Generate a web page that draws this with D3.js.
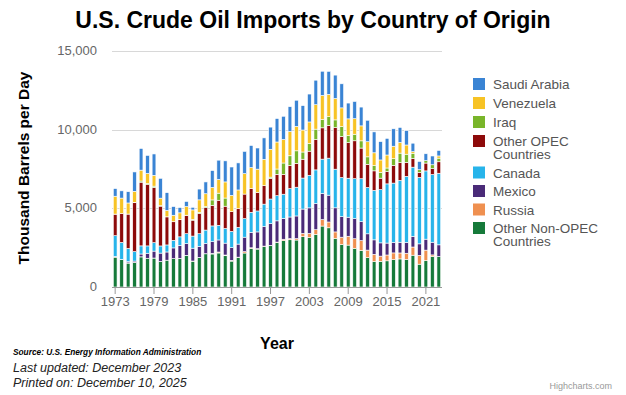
<!DOCTYPE html>
<html>
<head>
<meta charset="utf-8">
<script src="https://cdnjs.cloudflare.com/ajax/libs/d3/7.8.5/d3.min.js"></script>
<style>
  body { margin: 0; background: #fff; }
  svg { font-family: "Liberation Sans", Arial, sans-serif; }
</style>
</head>
<body>
<div id="chart"></div>
<script>
var years = d3.range(1973, 2024);

var seriesNames = ["Other Non-OPEC Countries", "Russia", "Mexico", "Canada",
                   "Other OPEC Countries", "Iraq", "Venezuela", "Saudi Arabia"];
var seriesColors = ["#167a3a", "#ef9050", "#4a2b78", "#27b4ea",
                    "#8d0a0a", "#79b52a", "#f7c325", "#3a84d4"];

var saudiArabia = [486,461,715,1230,1380,1144,1356,1261,1129,552,337,325,168,685,751,1073,1224,1339,1802,1720,
  1414,1402,1344,1363,1407,1491,1478,1572,1662,1552,1774,1558,1537,1463,1485,1529,1004,1096,1195,1365,
  1329,1166,1059,1106,959,917,538,525,434,558,350];
var venezuela = [1135,979,702,700,690,646,690,481,406,412,422,548,605,793,804,794,873,1025,1035,1170,
  1300,1334,1480,1676,1773,1719,1493,1546,1553,1398,1376,1554,1529,1419,1361,1189,1063,988,951,960,
  806,789,827,796,676,586,101,0,0,0,140];
var iraq = [4,0,2,26,74,62,88,28,1,1,10,12,46,81,83,345,449,518,0,0,
  0,0,0,1,89,336,726,620,795,459,481,656,531,553,484,627,450,415,459,476,
  341,369,229,419,603,522,333,179,157,247,230];
var otherOpec = [1368,1840,2182,3110,4049,3899,3503,2530,1787,1181,1093,1164,1011,1278,1422,1308,1594,1414,1255,1202,
  1559,1511,1178,1171,1300,1359,1256,1465,1518,1196,1531,1933,1990,2082,2650,2609,2259,2407,1950,1470,
  1244,724,779,1129,1133,883,552,306,498,373,730];
var canada = [1325,1070,846,599,517,467,538,455,447,482,547,630,770,807,848,999,931,934,1033,1069,
  1181,1272,1332,1424,1563,1598,1539,1807,1828,1971,2072,2138,2181,2353,2455,2493,2479,2535,2729,2946,
  3142,3388,3763,3776,3928,4205,4398,4226,4340,4303,4550];
var mexico = [16,8,71,87,179,318,439,533,522,685,826,748,816,699,655,747,767,755,807,830,
  919,984,1068,1244,1385,1351,1324,1373,1440,1547,1623,1665,1662,1705,1532,1302,1210,1284,1206,1035,
  919,842,758,662,682,685,678,733,697,806,740];
var russia = [26,14,18,1,2,0,1,1,0,0,2,21,10,19,5,38,60,45,49,12,
  88,44,25,27,21,25,89,72,90,210,254,298,410,369,414,465,563,612,624,477,
  460,330,369,425,378,386,520,560,672,97,0];
var otherNonOpec = [1896,1740,1520,1560,1916,1827,1841,1620,1704,1800,1814,1989,1641,1862,2110,2098,2163,1988,1646,1885,
  2159,2449,2408,2572,2624,2829,2947,3004,2985,3197,3153,3343,3874,3763,3087,2701,2663,2456,2322,1869,
  1618,1633,1665,1742,1785,1759,2021,1450,1671,1943,1940];

var yTicks = [0, 5000, 10000, 15000];
var xTickYears = [1973, 1979, 1985, 1991, 1997, 2003, 2009, 2015, 2021];

var legendOrder = ["Saudi Arabia", "Venezuela", "Iraq", "Other OPEC Countries",
                   "Canada", "Mexico", "Russia", "Other Non-OPEC Countries"];

var seriesValues = [otherNonOpec, russia, mexico, canada, otherOpec, iraq, venezuela, saudiArabia];

var rows = years.map(function(yr, i) {
  var r = { year: yr };
  seriesNames.forEach(function(n, k) { r[n] = seriesValues[k][i]; });
  return r;
});

var W = 626, H = 395,
    pl = 112, pr = 442, pt = 51, pb = 287;

var svg = d3.select("#chart").append("svg")
    .attr("width", W)
    .attr("height", H);

var x = d3.scaleBand()
    .domain(years)
    .range([pl, pr])
    .paddingInner(0.42)
    .paddingOuter(0.2);

var y = d3.scaleLinear()
    .domain([0, 15000])
    .range([pb, pt]);

var color = d3.scaleOrdinal().domain(seriesNames).range(seriesColors);

// grid
svg.append("g")
  .selectAll("line")
    .data(yTicks.slice(1))
  .enter().append("line")
    .attr("x1", pl)
    .attr("x2", pr)
    .attr("y1", function(d) { return Math.round(y(d)) + 0.5; })
    .attr("y2", function(d) { return Math.round(y(d)) + 0.5; })
    .attr("stroke", "#d8d8d8")
    .attr("stroke-width", 1);

// y tick labels
svg.append("g")
  .selectAll("text")
    .data(yTicks)
  .enter().append("text")
    .attr("x", 97)
    .attr("y", function(d) { return y(d) + 4; })
    .attr("text-anchor", "end")
    .attr("fill", "#666")
    .style("font-size", "13px")
    .text(d3.format(","));

// stacked bars
var stack = d3.stack().keys(seriesNames)(rows);

svg.append("g")
  .selectAll("g")
    .data(stack)
  .enter().append("g")
    .attr("fill", function(d) { return color(d.key); })
  .selectAll("rect")
    .data(function(d) { return d; })
  .enter().append("rect")
    .attr("x", function(d) { return x(d.data.year); })
    .attr("width", x.bandwidth())
    .attr("y", function(d) { return y(d[1]); })
    .attr("height", function(d) { return Math.max(0, y(d[0]) - y(d[1])); })
    .attr("stroke", "#fff")
    .attr("stroke-width", 0.6);

// x axis
svg.append("line")
    .attr("x1", pl)
    .attr("x2", pr)
    .attr("y1", pb + 0.5)
    .attr("y2", pb + 0.5)
    .attr("stroke", "#999");

var xt = svg.append("g")
  .selectAll("g")
    .data(xTickYears)
  .enter().append("g")
    .attr("transform", function(d) {
      return "translate(" + (x(d) + x.bandwidth() / 2) + ",0)";
    });

xt.append("line")
    .attr("y1", pb)
    .attr("y2", pb + 7)
    .attr("stroke", "#999");

xt.append("text")
    .attr("y", 306)
    .attr("text-anchor", "middle")
    .attr("fill", "#666")
    .style("font-size", "13px")
    .text(function(d) { return d; });

// titles
svg.append("text")
    .attr("x", 313)
    .attr("y", 28)
    .attr("text-anchor", "middle")
    .style("font-size", "23px")
    .style("font-weight", "bold")
    .attr("fill", "#000")
    .text("U.S. Crude Oil Imports by Country of Origin");

svg.append("text")
    .attr("transform", "translate(29,168)rotate(-90)")
    .attr("text-anchor", "middle")
    .style("font-size", "15.5px")
    .style("font-weight", "bold")
    .text("Thousand Barrels per Day");

svg.append("text")
    .attr("x", 277)
    .attr("y", 349)
    .attr("text-anchor", "middle")
    .style("font-size", "16px")
    .style("font-weight", "bold")
    .text("Year");

// legend
var legendY = [84, 103, 122, 141, 172.5, 191, 209.5, 228];
var leg = svg.append("g")
  .selectAll("g")
    .data(legendOrder)
  .enter().append("g")
    .attr("transform", function(d, i) { return "translate(473," + legendY[i] + ")"; });

leg.append("rect")
    .attr("x", 0)
    .attr("y", -6)
    .attr("width", 12)
    .attr("height", 12)
    .attr("fill", function(d) { return color(d); });

leg.append("text")
    .attr("x", 20)
    .attr("y", 5)
    .attr("fill", "#555")
    .style("font-size", "13.5px")
    .each(function(d) {
      var parts = d.indexOf("Countries") > 0 ? [d.replace(" Countries", ""), "Countries"] : [d];
      var t = d3.select(this);
      parts.forEach(function(p, k) {
        t.append("tspan").attr("x", 20).attr("dy", k ? 13 : 0).text(p);
      });
    });

// footer
svg.append("text")
    .attr("x", 13)
    .attr("y", 355)
    .style("font-size", "8.3px")
    .style("font-weight", "bold")
    .style("font-style", "italic")
    .text("Source: U.S. Energy Information Administration");

svg.append("text")
    .attr("x", 13)
    .attr("y", 372)
    .style("font-size", "12.5px")
    .style("font-style", "italic")
    .attr("fill", "#222")
    .text("Last updated: December 2023");

svg.append("text")
    .attr("x", 13)
    .attr("y", 387)
    .style("font-size", "12.5px")
    .style("font-style", "italic")
    .attr("fill", "#222")
    .text("Printed on: December 10, 2025");

svg.append("text")
    .attr("x", 612)
    .attr("y", 389)
    .attr("text-anchor", "end")
    .attr("fill", "#999")
    .style("font-size", "9px")
    .text("Highcharts.com");
</script>
</body>
</html>
